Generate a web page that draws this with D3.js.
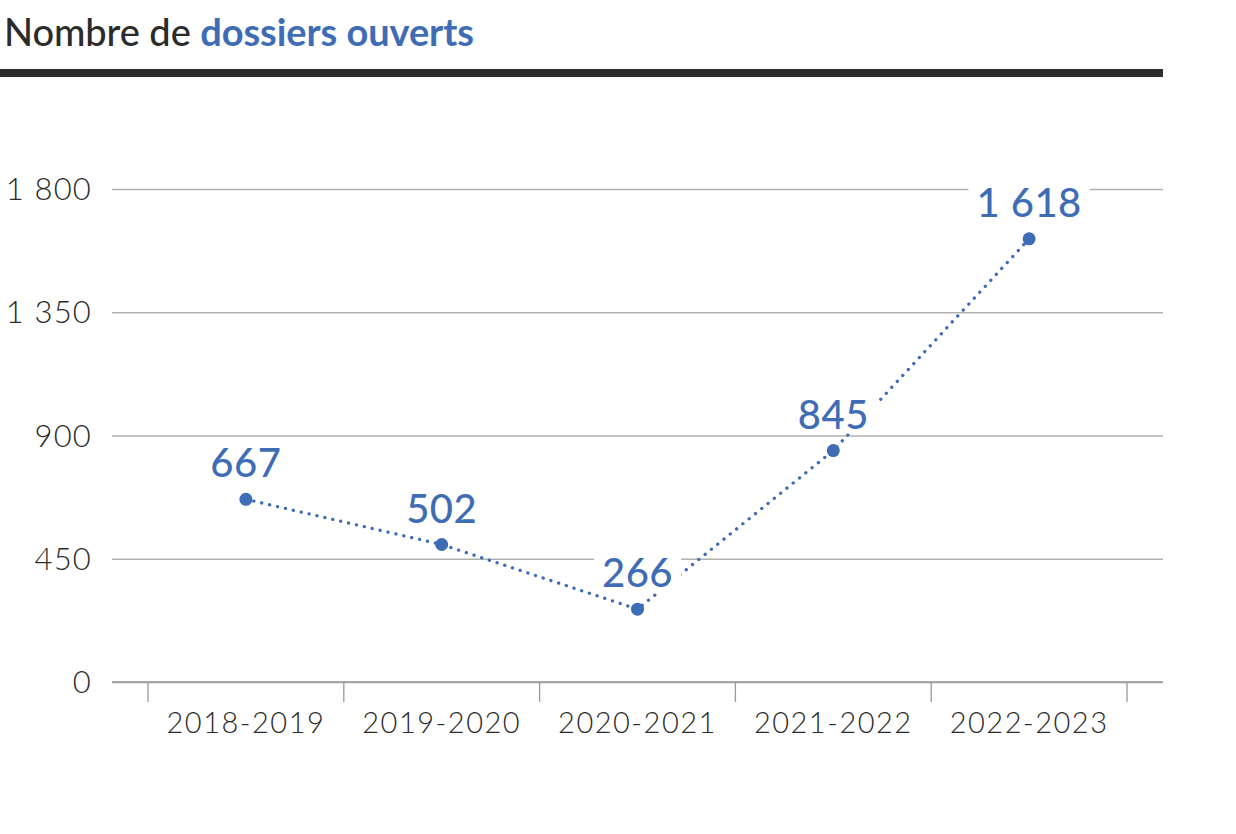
<!DOCTYPE html>
<html><head><meta charset="utf-8">
<script src="https://cdn.jsdelivr.net/npm/d3@7"></script>
<style>body{margin:0;background:#fff}</style>
</head><body><svg id="c" width="1236" height="834"></svg>
<script>
const categories = ["2018-2019","2019-2020","2020-2021","2021-2022","2022-2023"];
const values = [667, 502, 266, 845, 1618];
const yTicks = [0, 450, 900, 1350, 1800];
const titleParts = ["Nombre de ", "dossiers ouverts"];

const blue = "#3f6db5", dark = "#2b2b2b";
const svg = d3.select("#c");
const fr = d3.formatLocale({decimal: ",", thousands: " ", grouping: [3], currency: ["", " €"]});
const fmt = fr.format(",d");

const x = d3.scaleBand().domain(categories).range([148, 1127]).padding(0);
const y = d3.scaleLinear().domain([0, 1800]).range([682, 189]);
const cx = d => x(d) + x.bandwidth() / 2;

// title
const t = svg.append("text").attr("x", 4).attr("y", 46)
  .attr("font-family", "Lato").attr("font-size", 38)
  .attr("textLength", 470).attr("lengthAdjust", "spacing");
t.append("tspan").text(titleParts[0]).attr("fill", dark).attr("font-weight", 500);
t.append("tspan").text(titleParts[1]).attr("fill", blue).attr("font-weight", 700);
svg.append("rect").attr("x", 0).attr("y", 69).attr("width", 1163).attr("height", 8).attr("fill", "#2d2d2d");

// gridlines + y labels
const yAxis = d3.axisLeft(y).tickValues(yTicks).tickSize(-(1163 - 112)).tickPadding(20).tickFormat(fmt);
const gy = svg.append("g").attr("transform", "translate(112,0)").call(yAxis);
gy.select(".domain").remove();
gy.selectAll(".tick line").attr("stroke", "#b0b0b0").attr("stroke-width", 1.3);
gy.selectAll(".tick text").attr("font-family", "Lato").attr("font-weight", 300)
  .attr("font-size", 31).attr("fill", dark).attr("dy", "0.34em").attr("letter-spacing", 1.2);

// x axis
const gx = svg.append("g").attr("transform", "translate(0,682)");
gx.append("line").attr("x1", 112).attr("x2", 1163).attr("stroke", "#999").attr("stroke-width", 1.3);
const bounds = categories.map(c => x(c)).concat([x.range()[1]]);
gx.selectAll("line.tk").data(bounds).join("line").attr("class", "tk")
  .attr("x1", d => d).attr("x2", d => d).attr("y1", 0).attr("y2", 20)
  .attr("stroke", "#999").attr("stroke-width", 1.3);
gx.selectAll("text").data(categories).join("text")
  .attr("x", d => cx(d)).attr("y", 51).attr("text-anchor", "middle")
  .attr("font-family", "Lato").attr("font-weight", 300).attr("font-size", 29)
  .attr("letter-spacing", 1.5)
  .attr("fill", dark).text(d => d);

// line
const data = categories.map((c, i) => ({c, v: values[i]}));
const line = d3.line().x(d => cx(d.c)).y(d => y(d.v));
svg.append("path").datum(data).attr("d", line).attr("fill", "none")
  .attr("stroke", blue).attr("stroke-width", 3.3).attr("stroke-dasharray", "0.1 8")
  .attr("stroke-linecap", "round");

// labels with white background
const lg = svg.append("g");
data.forEach(d => {
  const g = lg.append("g");
  const tx = g.append("text").attr("x", cx(d.c)).attr("y", y(d.v) - 22)
    .attr("text-anchor", "middle").attr("font-family", "Lato").attr("font-weight", 500)
    .attr("font-size", 40).attr("fill", blue).attr("letter-spacing", 0.5).text(fmt(d.v));
  const b = tx.node().getBBox();
  g.insert("rect", "text").attr("x", b.x - 8).attr("y", b.y + 6).attr("width", b.width + 16)
    .attr("height", b.height - 10).attr("fill", "#fff");
});

// dots
svg.selectAll("circle").data(data).join("circle")
  .attr("cx", d => cx(d.c)).attr("cy", d => y(d.v)).attr("r", 6.5).attr("fill", blue);
</script></body></html>
